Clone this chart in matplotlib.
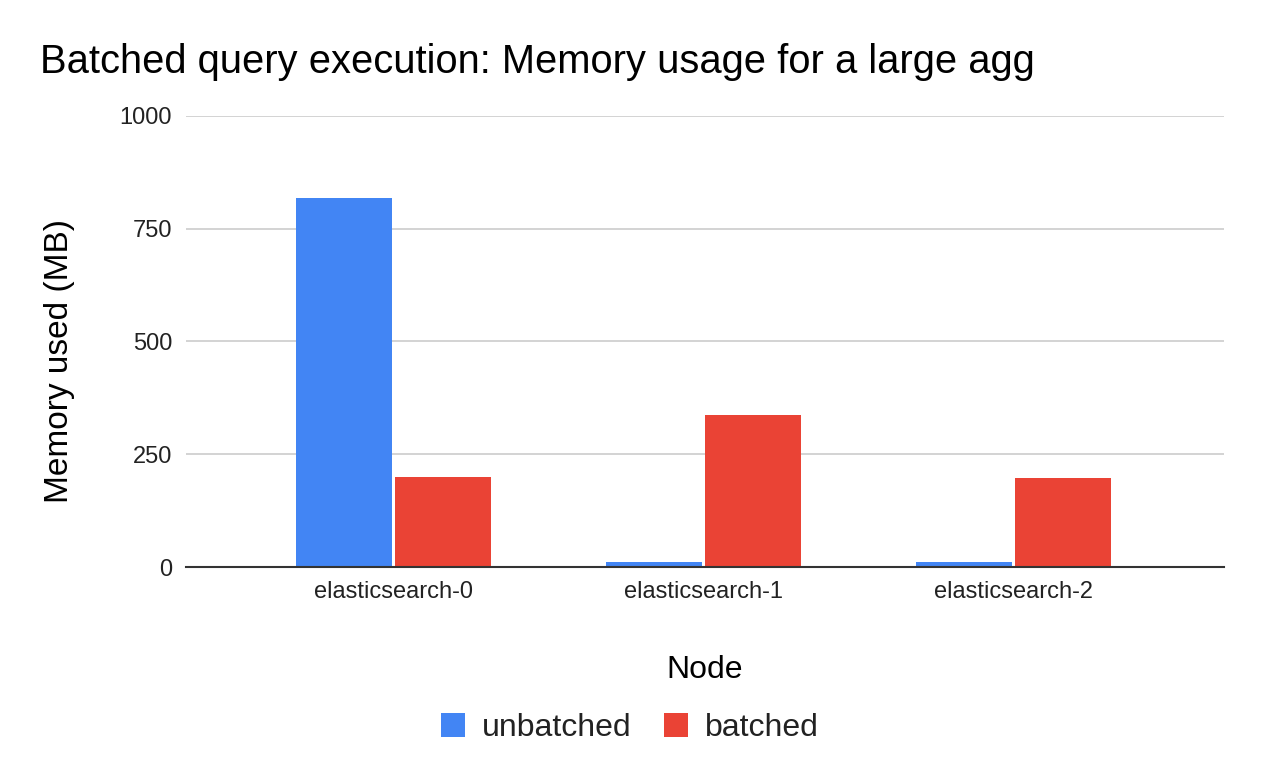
import numpy as np
import matplotlib.pyplot as plt

# data
nodes = ["elasticsearch-0", "elasticsearch-1", "elasticsearch-2"]
unbatched = [819, 10, 10]
batched = [200, 337, 197]
yticks = [0, 250, 500, 750, 1000]

plt.rcParams['font.family'] = ['Liberation Sans', 'DejaVu Sans']

W, H = 1262, 780
fig = plt.figure(figsize=(W / 100, H / 100), dpi=100)
# axes box in pixels: x 186..1224, y 116 (1000) .. 567 (0)
ax = fig.add_axes([186 / W, (H - 567) / H, (1224 - 186) / W, (567 - 116) / H])

x = np.arange(len(nodes))
w = 0.31
b1 = ax.bar(x - 0.158, unbatched, width=w, color='#4285f4', label='unbatched', zorder=3)
b2 = ax.bar(x + 0.16, batched, width=w, color='#ea4335', label='batched', zorder=3)

ax.set_xlim(-0.668, 2.68)
ax.set_ylim(0, 1000)
ax.set_yticks(yticks)
ax.set_yticklabels([str(t) for t in yticks], fontsize=17, color='#222222')
ax.set_xticks(x)
ax.set_xticklabels(nodes, fontsize=17, color='#222222')
ax.tick_params(axis='both', length=0)
ax.tick_params(axis='y', pad=10)
ax.tick_params(axis='x', pad=10)

ax.grid(axis='y', color='#cccccc', linewidth=1.2, zorder=0)
for s in ['top', 'right', 'left']:
    ax.spines[s].set_visible(False)
ax.spines['bottom'].set_color('#333333')
ax.spines['bottom'].set_linewidth(1.5)
ax.spines['bottom'].set_zorder(4)

ax.set_xlabel("Node", fontsize=23)
ax.xaxis.set_label_coords(0.5, (567 - 670) / 451)
ax.xaxis.label.set_va('center')
ax.set_ylabel("Memory used (MB)", fontsize=24)
ax.yaxis.set_label_coords((60 - 186) / 1038, (567 - 361) / 451)
ax.yaxis.label.set_va('center')

fig.text(40 / W, 1 - 62 / H, "Batched query execution: Memory usage for a large agg",
         fontsize=28.7, va='center', ha='left')

leg = fig.legend(handles=[b1, b2], loc='center', bbox_to_anchor=(630 / W, 52 / H),
                 ncol=2, frameon=False, fontsize=23, handlelength=0.75, handleheight=0.75,
                 handletextpad=0.53, columnspacing=1.03)
for t in leg.get_texts():
    t.set_color('#222222')

fig.savefig("out.png", dpi=100)
